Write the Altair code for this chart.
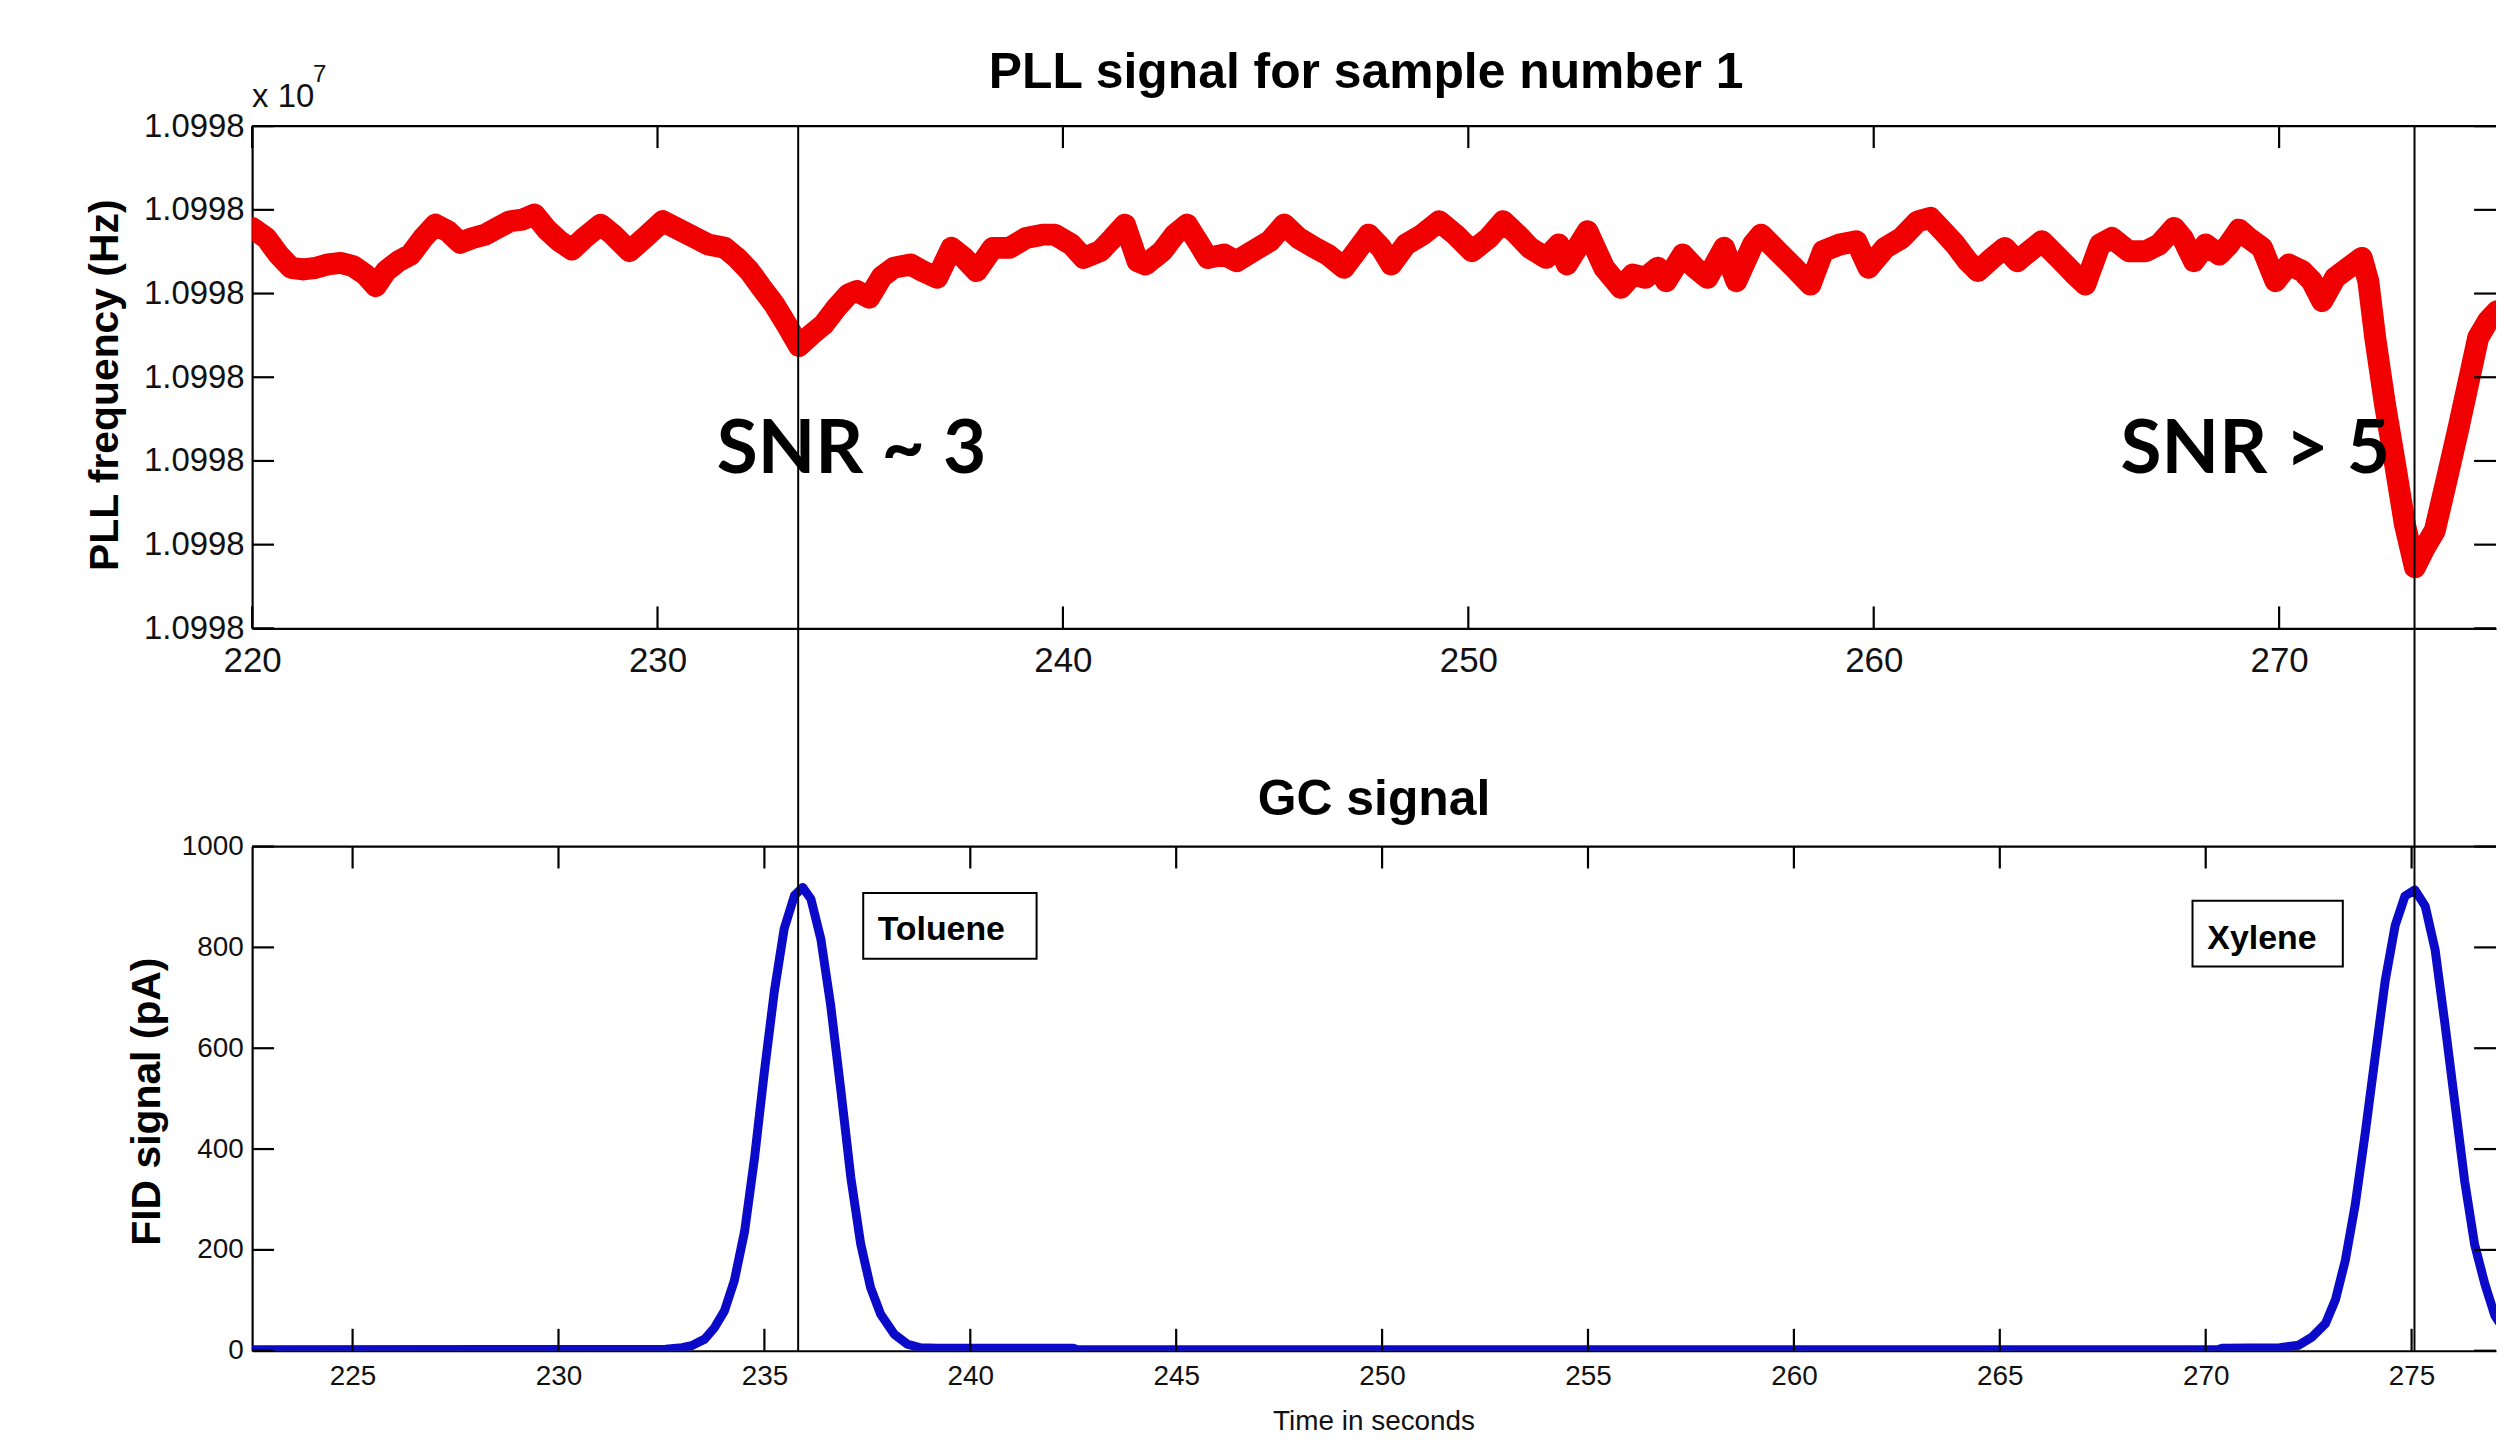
import altair as alt
import pandas as pd

# ------------------------------------------------------------------ data
# PLL trace (top panel): time in s, frequency in Hz (centre of the noisy band)
pll_time_s = [
    220.00, 220.35, 220.65, 220.96, 221.26, 221.57, 221.87, 222.18, 222.49, 222.79,
    223.05, 223.30, 223.61, 223.91, 224.22, 224.52, 224.83, 225.13, 225.44, 225.75,
    226.05, 226.36, 226.66, 226.97, 227.27, 227.58, 227.89, 228.19, 228.60, 228.90,
    229.31, 229.72, 230.13, 230.53, 230.94, 231.25, 231.66, 231.96, 232.27, 232.57,
    232.88, 233.18, 233.49, 233.80, 234.10, 234.41, 234.71, 234.92, 235.22, 235.53,
    235.83, 236.24, 236.54, 236.90, 237.25, 237.56, 237.87, 238.27, 238.68, 239.09,
    239.50, 239.80, 240.21, 240.51, 240.92, 241.23, 241.53, 241.84, 242.04, 242.45,
    242.76, 243.06, 243.37, 243.57, 243.98, 244.28, 244.69, 245.10, 245.46, 245.81,
    246.22, 246.53, 246.93, 247.24, 247.54, 247.85, 248.10, 248.46, 248.87, 249.28,
    249.68, 250.09, 250.50, 250.86, 251.21, 251.52, 251.92, 252.23, 252.43, 252.94,
    253.35, 253.76, 254.06, 254.37, 254.67, 254.88, 255.29, 255.59, 255.90, 256.31,
    256.61, 257.02, 257.22, 257.63, 258.04, 258.44, 258.75, 259.16, 259.57, 259.87,
    260.28, 260.69, 261.09, 261.40, 261.71, 262.01, 262.32, 262.57, 262.93, 263.23,
    263.54, 263.84, 264.15, 264.56, 264.96, 265.22, 265.58, 265.88, 266.29, 266.71,
    267.04, 267.41, 267.62, 267.90, 268.19, 268.52, 268.76, 269.01, 269.25, 269.58,
    269.91, 270.24, 270.57, 270.81, 271.06, 271.38, 271.71, 272.04, 272.20, 272.37,
    272.61, 272.86, 273.10, 273.35, 273.60, 273.84, 274.09, 274.41, 274.66, 274.91,
    275.15, 275.38,
]
pll_freq_hz = [
    10997993.92, 10997993.32, 10997992.33, 10997991.54, 10997991.44, 10997991.54, 10997991.74, 10997991.83, 10997991.64, 10997991.14,
    10997990.44, 10997991.34, 10997991.93, 10997992.33, 10997993.32, 10997994.12, 10997993.72, 10997993.03, 10997993.32, 10997993.52,
    10997993.92, 10997994.32, 10997994.42, 10997994.72, 10997993.82, 10997993.13, 10997992.63, 10997993.32, 10997994.12, 10997993.52,
    10997992.53, 10997993.42, 10997994.32, 10997993.82, 10997993.32, 10997992.93, 10997992.73, 10997992.13, 10997991.34, 10997990.34,
    10997989.35, 10997988.16, 10997986.87, 10997987.56, 10997988.16, 10997989.15, 10997989.95, 10997990.15, 10997989.75, 10997991.00,
    10997991.54, 10997991.74, 10997991.34, 10997990.94, 10997992.73, 10997992.13, 10997991.34, 10997992.73, 10997992.73, 10997993.32,
    10997993.52, 10997993.52, 10997992.93, 10997992.13, 10997992.53, 10997993.32, 10997994.12, 10997991.93, 10997991.74, 10997992.53,
    10997993.52, 10997994.12, 10997992.93, 10997992.13, 10997992.33, 10997991.93, 10997992.53, 10997993.13, 10997994.12, 10997993.32,
    10997992.73, 10997992.33, 10997991.54, 10997992.53, 10997993.52, 10997992.73, 10997991.74, 10997992.93, 10997993.52, 10997994.32,
    10997993.52, 10997992.53, 10997993.32, 10997994.32, 10997993.52, 10997992.73, 10997992.13, 10997992.93, 10997991.74, 10997993.72,
    10997991.54, 10997990.34, 10997991.14, 10997990.94, 10997991.54, 10997990.74, 10997992.33, 10997991.54, 10997990.94, 10997992.73,
    10997990.74, 10997992.93, 10997993.52, 10997992.53, 10997991.54, 10997990.54, 10997992.53, 10997992.93, 10997993.13, 10997991.54,
    10997992.73, 10997993.32, 10997994.32, 10997994.52, 10997993.72, 10997992.93, 10997991.93, 10997991.34, 10997992.13, 10997992.73,
    10997991.93, 10997992.53, 10997993.13, 10997992.13, 10997991.14, 10997990.54, 10997992.93, 10997993.32, 10997992.53, 10997992.53,
    10997992.93, 10997993.92, 10997993.32, 10997991.93, 10997992.93, 10997992.33, 10997992.93, 10997993.82, 10997993.32, 10997992.73,
    10997990.74, 10997991.74, 10997991.34, 10997990.74, 10997989.55, 10997990.94, 10997991.54, 10997992.13, 10997990.74, 10997987.37,
    10997983.39, 10997979.82, 10997976.24, 10997973.65, 10997974.85, 10997975.84, 10997978.43, 10997981.80, 10997984.58, 10997987.37,
    10997988.36, 10997988.95,
]

# GC / FID trace (bottom panel)
gc_time_s = [
    222.56, 232.60, 233.00, 233.23, 233.55, 233.79, 234.03, 234.27, 234.52, 234.76,
    235.00, 235.24, 235.48, 235.73, 235.93, 236.13, 236.37, 236.61, 236.86, 237.10,
    237.34, 237.58, 237.82, 238.15, 238.47, 238.79, 239.20, 242.50, 242.60, 270.30,
    270.40, 271.80, 272.26, 272.58, 272.91, 273.15, 273.39, 273.63, 273.87, 274.12,
    274.36, 274.60, 274.84, 275.08, 275.33, 275.57, 275.81, 276.05, 276.29, 276.53,
    276.78, 277.02, 277.30,
]
gc_fid_pa = [
    2, 3, 6, 10, 23, 46, 79, 139, 237, 382,
    554, 712, 837, 903, 919, 896, 817, 685, 514, 343,
    211, 125, 73, 33, 13, 6, 5, 5, 2, 2,
    5, 6, 11, 27, 54, 101, 179, 289, 429, 586,
    734, 843, 902, 914, 882, 796, 648, 492, 336, 211,
    132, 70, 35,
]

# axis ticks
top_xticks = [220, 230, 240, 250, 260, 270]
top_yticks = [10997970, 10997975, 10997980, 10997985, 10997990, 10997995, 10998000]
bot_xticks = [225, 230, 235, 240, 245, 250, 255, 260, 265, 270, 275]
bot_yticks = [0, 200, 400, 600, 800, 1000]

# vertical markers (same instants, expressed on each panel's time axis)
event_time_top = [233.47, 273.34]
event_time_bot = [235.82, 275.07]

# annotations
snr_labels = ["SNR ~ 3", "SNR > 5"]
snr_time = [231.46, 266.09]
snr_freq = [10997979.3, 10997979.3]

peak_names = ["Toluene", "Xylene"]
box_t0 = [237.40, 269.68]
box_t1 = [241.61, 273.33]
box_lo = [777.7, 761.9]
box_hi = [908.0, 892.3]
label_t = [237.75, 270.04]
label_v = [813.8, 797.4]

assert len(pll_time_s) == len(pll_freq_hz)
assert len(gc_time_s) == len(gc_fid_pa)

# ------------------------------------------------------------------ layout
W = 2252
H_TOP = 504
H_BOT = 506
GAP = 219
TICK = 22
FONT = "Liberation Sans"
RED = "#f00000"
BLUE = "#0a0ac8"
LW = 2.2

pll_df = pd.DataFrame({"t": pll_time_s, "f": pll_freq_hz})
gc_df = pd.DataFrame({"t": gc_time_s, "v": gc_fid_pa})

# ---------------- top panel
xs_top = alt.Scale(domain=[220, 275.35], nice=False, zero=False)
ys_top = alt.Scale(domain=[10997970, 10998000], nice=False, zero=False)
ax_top_x = alt.Axis(values=top_xticks, title=None, ticks=False, grid=False,
                    labelFontSize=35, labelPadding=15, labelFlush=False,
                    labelOverlap=False, format="d")
ax_top_y = alt.Axis(values=top_yticks, title=None, ticks=False, grid=False,
                    labelFontSize=33, labelPadding=8, labelOverlap=False,
                    labelExpr="format(datum.value / 10000000, '.4f')")


def xt(field="t"):
    return alt.X(f"{field}:Q", scale=xs_top, axis=ax_top_x)


def yt(field="f"):
    return alt.Y(f"{field}:Q", scale=ys_top, axis=ax_top_y)


top_line = alt.Chart(pll_df).mark_line(
    color=RED, strokeWidth=22, clip=True, strokeJoin="round", strokeCap="round"
).encode(x=xt(), y=yt())

top_tx = pd.DataFrame({"t": top_xticks})
top_ty = pd.DataFrame({"f": top_yticks})
top_ticks_b = alt.Chart(top_tx).mark_rule(color="black", strokeWidth=LW).encode(
    x=xt(), y=alt.value(H_TOP), y2=alt.value(H_TOP - TICK))
top_ticks_t = alt.Chart(top_tx).mark_rule(color="black", strokeWidth=LW).encode(
    x=xt(), y=alt.value(0), y2=alt.value(TICK))
top_ticks_l = alt.Chart(top_ty).mark_rule(color="black", strokeWidth=LW).encode(
    y=yt(), x=alt.value(0), x2=alt.value(TICK))
top_ticks_r = alt.Chart(top_ty).mark_rule(color="black", strokeWidth=LW).encode(
    y=yt(), x=alt.value(W - TICK), x2=alt.value(W))
top_border = alt.Chart(pd.DataFrame({"t": [220]})).mark_rule(color="black", strokeWidth=LW).encode(
    x=alt.value(0), x2=alt.value(W), y=alt.value(0))
top_events = alt.Chart(pd.DataFrame({"t": event_time_top})).mark_rule(
    color="black", strokeWidth=2).encode(x=xt(), y=alt.value(0), y2=alt.value(H_TOP + GAP))
snr_text = alt.Chart(pd.DataFrame({"t": snr_time, "f": snr_freq, "label": snr_labels})).mark_text(
    font="Lato", fontWeight="bold", fontSize=75, align="left", baseline="alphabetic", color="black"
).encode(x=xt(), y=yt(), text="label:N")
top_title = alt.Chart(pd.DataFrame({"label": ["PLL signal for sample number 1"]})).mark_text(
    font=FONT, fontWeight="bold", fontSize=50, align="center", baseline="alphabetic", color="black"
).encode(x=alt.value(W / 2 - 8), y=alt.value(-38), text="label:N")
top_ytitle = alt.Chart(pd.DataFrame({"label": ["PLL frequency (Hz)"]})).mark_text(
    font=FONT, fontWeight="bold", fontSize=41, angle=270, align="center", baseline="middle", color="black"
).encode(x=alt.value(-147), y=alt.value(260), text="label:N")
exp_base = alt.Chart(pd.DataFrame({"label": ["x 10"]})).mark_text(
    font=FONT, fontSize=33, align="left", baseline="alphabetic", color="#111111"
).encode(x=alt.value(0), y=alt.value(-19), text="label:N")
exp_pow = alt.Chart(pd.DataFrame({"label": ["7"]})).mark_text(
    font=FONT, fontSize=24, align="left", baseline="alphabetic", color="#111111"
).encode(x=alt.value(61), y=alt.value(-44), text="label:N")

top = alt.layer(
    top_line, top_events, top_ticks_b, top_ticks_t, top_ticks_l, top_ticks_r, top_border,
    snr_text, top_title, top_ytitle, exp_base, exp_pow,
).properties(width=W, height=H_TOP)

# ---------------- bottom panel
xs_bot = alt.Scale(domain=[222.56, 277.05], nice=False, zero=False)
ys_bot = alt.Scale(domain=[0, 1000], nice=False, zero=False)
ax_bot_x = alt.Axis(values=bot_xticks, title=None, ticks=False, grid=False,
                    labelFontSize=28, labelPadding=12, labelFlush=False,
                    labelOverlap=False, format="d")
ax_bot_y = alt.Axis(values=bot_yticks, title=None, ticks=False, grid=False,
                    labelFontSize=28, labelPadding=9, labelOverlap=False, format="d")


def xb(field="t"):
    return alt.X(f"{field}:Q", scale=xs_bot, axis=ax_bot_x)


def yb(field="v"):
    return alt.Y(f"{field}:Q", scale=ys_bot, axis=ax_bot_y)


bot_line = alt.Chart(gc_df).mark_line(
    color=BLUE, strokeWidth=9, clip=True, strokeJoin="round"
).encode(x=xb(), y=yb())

bot_tx = pd.DataFrame({"t": bot_xticks})
bot_ty = pd.DataFrame({"v": bot_yticks})
bot_ticks_b = alt.Chart(bot_tx).mark_rule(color="black", strokeWidth=LW).encode(
    x=xb(), y=alt.value(H_BOT), y2=alt.value(H_BOT - TICK))
bot_ticks_t = alt.Chart(bot_tx).mark_rule(color="black", strokeWidth=LW).encode(
    x=xb(), y=alt.value(0), y2=alt.value(TICK))
bot_ticks_l = alt.Chart(bot_ty).mark_rule(color="black", strokeWidth=LW).encode(
    y=yb(), x=alt.value(0), x2=alt.value(TICK))
bot_ticks_r = alt.Chart(bot_ty).mark_rule(color="black", strokeWidth=LW).encode(
    y=yb(), x=alt.value(W - TICK), x2=alt.value(W))
bot_border = alt.Chart(pd.DataFrame({"t": [225]})).mark_rule(color="black", strokeWidth=LW).encode(
    x=alt.value(0), x2=alt.value(W), y=alt.value(0))
bot_events = alt.Chart(pd.DataFrame({"t": event_time_bot})).mark_rule(
    color="black", strokeWidth=2).encode(x=xb(), y=alt.value(0), y2=alt.value(H_BOT))

box_df = pd.DataFrame({"t0": box_t0, "t1": box_t1, "lo": box_lo, "hi": box_hi})
boxes = alt.Chart(box_df).mark_rect(fill="white", stroke="black", strokeWidth=2).encode(
    x=xb("t0"), x2="t1:Q", y=yb("lo"), y2="hi:Q")
box_text = alt.Chart(pd.DataFrame({"t": label_t, "v": label_v, "label": peak_names})).mark_text(
    font=FONT, fontWeight="bold", fontSize=34, align="left", baseline="alphabetic", color="black"
).encode(x=xb(), y=yb(), text="label:N")

bot_title = alt.Chart(pd.DataFrame({"label": ["GC signal"]})).mark_text(
    font=FONT, fontWeight="bold", fontSize=50, align="center", baseline="alphabetic", color="black"
).encode(x=alt.value(W / 2), y=alt.value(-32), text="label:N")
bot_ytitle = alt.Chart(pd.DataFrame({"label": ["FID signal (pA)"]})).mark_text(
    font=FONT, fontWeight="bold", fontSize=41, angle=270, align="center", baseline="middle", color="black"
).encode(x=alt.value(-104), y=alt.value(256), text="label:N")
bot_xtitle = alt.Chart(pd.DataFrame({"label": ["Time in seconds"]})).mark_text(
    font=FONT, fontSize=28, align="center", baseline="alphabetic", color="#111111"
).encode(x=alt.value(W / 2), y=alt.value(H_BOT + 80), text="label:N")

bottom = alt.layer(
    bot_line, bot_events, bot_ticks_b, bot_ticks_t, bot_ticks_l, bot_ticks_r, bot_border,
    boxes, box_text, bot_title, bot_ytitle, bot_xtitle,
).properties(width=W, height=H_BOT)

chart = alt.vconcat(top, bottom, spacing=GAP, bounds="flush").properties(
    padding={"left": 77, "top": 38, "right": 0, "bottom": 0},
    background="white",
).configure_view(strokeWidth=0).configure_axis(
    labelFont=FONT, labelColor="#111111", domainColor="#000000", domainWidth=LW,
)

chart.save("out.html", embed_options={"renderer": "svg", "actions": False})
